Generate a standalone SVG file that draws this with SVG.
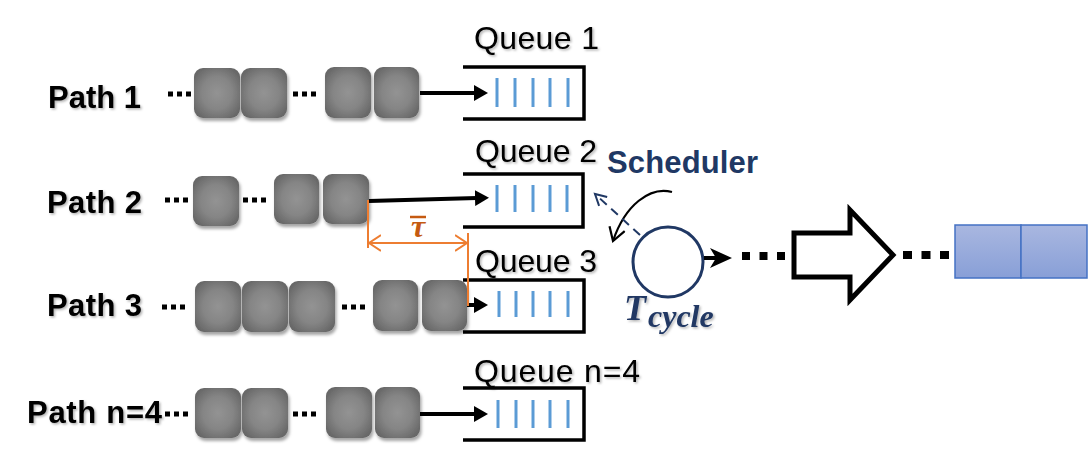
<svg xmlns="http://www.w3.org/2000/svg" width="1088" height="452" viewBox="0 0 1088 452">
<style>
.lbl{font-family:"Liberation Sans",Arial,sans-serif;font-weight:bold;font-size:31px;fill:#000}
.q{font-family:"Liberation Sans",Arial,sans-serif;font-size:32px;fill:#000}
.pkt{fill:url(#pg)}
.qbox{fill:none;stroke:#000;stroke-width:3.5}
.slot{stroke:#5b9bd5;stroke-width:3}
.dots{stroke:#000;stroke-width:5;stroke-dasharray:5 4}
.bigdots{stroke:#000;stroke-width:8}
.arr{stroke:#000;stroke-width:4;fill:none}
.or{stroke:#ed7d31;stroke-width:2;fill:none}
</style>
<defs>
<radialGradient id="pg" cx="0.5" cy="0.5" r="0.6">
<stop offset="0" stop-color="#939393"/>
<stop offset="0.55" stop-color="#858585"/>
<stop offset="1" stop-color="#676767"/>
</radialGradient>
<linearGradient id="bg" x1="0" y1="0" x2="0" y2="1">
<stop offset="0" stop-color="#a9b7e0"/>
<stop offset="1" stop-color="#889fd7"/>
</linearGradient>
<filter id="sh" x="-20%" y="-20%" width="150%" height="150%">
<feDropShadow dx="1.5" dy="3" stdDeviation="1.8" flood-color="#000" flood-opacity="0.35"/>
</filter>
<filter id="tsh" x="-10%" y="-20%" width="120%" height="150%">
<feDropShadow dx="1.5" dy="1.5" stdDeviation="1" flood-color="#000" flood-opacity="0.3"/>
</filter>
<marker id="ah" markerUnits="userSpaceOnUse" markerWidth="16" markerHeight="16" refX="2" refY="8" orient="auto">
<path d="M0,0 L14,8 L0,16 z" fill="#000"/>
</marker>
<marker id="oa" markerUnits="userSpaceOnUse" markerWidth="14" markerHeight="18" refX="12" refY="9" orient="auto">
<path d="M0,1 L12,9 L0,17" fill="none" stroke="#ed7d31" stroke-width="2"/>
</marker>
<marker id="va" markerUnits="userSpaceOnUse" markerWidth="24" markerHeight="24" refX="6" refY="12" orient="auto">
<path d="M0,2 L22,12 L0,22 L6,12 z" fill="#000"/>
</marker>
<marker id="bo" markerUnits="userSpaceOnUse" markerWidth="18" markerHeight="18" refX="14" refY="9" orient="auto">
<path d="M1,1 L14,9 L1,17" fill="none" stroke="#000" stroke-width="2.2"/>
</marker>
<marker id="no" markerUnits="userSpaceOnUse" markerWidth="16" markerHeight="16" refX="12" refY="8" orient="auto">
<path d="M1,2 L12,8 L1,14" fill="none" stroke="#203864" stroke-width="2"/>
</marker>
</defs>
<rect width="1088" height="452" fill="#fff"/>

<g id="path1">
<text class="lbl" x="48" y="108" textLength="93" filter="url(#tsh)">Path 1</text>
<line class="dots" x1="168" y1="94" x2="192" y2="94"/>
<g filter="url(#sh)">
<rect class="pkt" x="194" y="68" width="46" height="50" rx="9"/>
<rect class="pkt" x="241" y="68" width="46" height="50" rx="9"/>
<rect class="pkt" x="325" y="67" width="46" height="51" rx="9"/>
<rect class="pkt" x="374" y="67" width="45" height="51" rx="9"/>
</g>
<line class="dots" x1="293" y1="94" x2="317" y2="94"/>
</g>
<g id="queue1">
<text class="q" x="474" y="49" textLength="125" filter="url(#tsh)">Queue 1</text>
<path class="qbox" d="M463,67 H584 V119 H463"/>
<g class="slot"><line x1="497" y1="78" x2="497" y2="107"/><line x1="515" y1="78" x2="515" y2="107"/><line x1="533" y1="78" x2="533" y2="107"/><line x1="550" y1="78" x2="550" y2="107"/><line x1="568" y1="78" x2="568" y2="107"/></g>
</g>

<g id="path2">
<text class="lbl" x="47" y="213" textLength="95" filter="url(#tsh)">Path 2</text>
<line class="dots" x1="165" y1="200" x2="189" y2="200"/>
<g filter="url(#sh)">
<rect class="pkt" x="193" y="176" width="46" height="50" rx="9"/>
<rect class="pkt" x="274" y="174" width="45" height="50" rx="9"/>
<rect class="pkt" x="323" y="174" width="46" height="50" rx="9"/>
</g>
<line class="dots" x1="243" y1="200" x2="267" y2="200"/>
</g>
<g id="queue2">
<text class="q" x="475" y="162" textLength="122" filter="url(#tsh)">Queue 2</text>
<path class="qbox" d="M463,174 H583 V227 H463"/>
<g class="slot"><line x1="497" y1="185" x2="497" y2="212"/><line x1="515" y1="185" x2="515" y2="212"/><line x1="533" y1="185" x2="533" y2="212"/><line x1="550" y1="185" x2="550" y2="212"/><line x1="567" y1="185" x2="567" y2="212"/></g>
</g>

<g id="path3">
<text class="lbl" x="47" y="316" textLength="95" filter="url(#tsh)">Path 3</text>
<line class="dots" x1="162" y1="307" x2="186" y2="307"/>
<g filter="url(#sh)">
<rect class="pkt" x="195" y="281" width="46" height="51" rx="9"/>
<rect class="pkt" x="242" y="281" width="46" height="51" rx="9"/>
<rect class="pkt" x="289" y="281" width="46" height="51" rx="9"/>
<rect class="pkt" x="373" y="280" width="45" height="51" rx="9"/>
<rect class="pkt" x="422" y="280" width="45" height="51" rx="9"/>
</g>
<line class="dots" x1="342" y1="307" x2="366" y2="307"/>
</g>
<g id="queue3">
<text class="q" x="475" y="272" textLength="122" filter="url(#tsh)">Queue 3</text>
<path class="qbox" d="M463,280 H584 V332 H463"/>
<g class="slot"><line x1="499" y1="291" x2="499" y2="317"/><line x1="516" y1="291" x2="516" y2="317"/><line x1="533" y1="291" x2="533" y2="317"/><line x1="550" y1="291" x2="550" y2="317"/><line x1="568" y1="291" x2="568" y2="317"/></g>
</g>

<g id="path4">
<text class="lbl" x="27" y="423" textLength="135" filter="url(#tsh)">Path n=4</text>
<line class="dots" x1="165" y1="414" x2="189" y2="414"/>
<g filter="url(#sh)">
<rect class="pkt" x="195" y="388" width="46" height="50" rx="9"/>
<rect class="pkt" x="242" y="388" width="46" height="50" rx="9"/>
<rect class="pkt" x="326" y="387" width="46" height="51" rx="9"/>
<rect class="pkt" x="375" y="387" width="45" height="51" rx="9"/>
</g>
<line class="dots" x1="293" y1="414" x2="317" y2="414"/>
</g>
<g id="queue4">
<text class="q" x="474" y="382" textLength="166" filter="url(#tsh)">Queue n=4</text>
<path class="qbox" d="M463,388 H584 V440 H463"/>
<g class="slot"><line x1="498" y1="400" x2="498" y2="428"/><line x1="516" y1="400" x2="516" y2="428"/><line x1="533" y1="400" x2="533" y2="428"/><line x1="550" y1="400" x2="550" y2="428"/><line x1="568" y1="400" x2="568" y2="428"/></g>
</g>

<g id="scheduler">
<text x="607" y="173" textLength="151" font-family="Liberation Sans,Arial,sans-serif" font-weight="bold" font-size="31" fill="#203864">Scheduler</text>
<circle cx="668" cy="262" r="35" fill="#fff" stroke="#203864" stroke-width="3"/>
<text x="624" y="320" font-family="Liberation Serif,Times New Roman,serif" font-weight="bold" font-style="italic" font-size="36" fill="#203864" filter="url(#tsh)">T</text>
<text x="648" y="327" font-family="Liberation Serif,Times New Roman,serif" font-weight="bold" font-style="italic" font-size="32" fill="#203864" filter="url(#tsh)">cycle</text>
</g>

<g id="tau">
<line x1="410" y1="217" x2="426" y2="217" stroke="#c55a11" stroke-width="2.5"/>
<text x="418" y="237" text-anchor="middle" font-family="Liberation Serif,Times New Roman,serif" font-weight="bold" font-style="italic" font-size="32" fill="#c55a11">τ</text>
</g>

<g id="output">
<polygon points="794,233 850,233 850,210 893,255 850,300 850,277 794,277" fill="#fff" stroke="#000" stroke-width="5"/>
<rect x="955" y="225" width="66" height="53" fill="url(#bg)" stroke="#4472c4" stroke-width="1.5"/>
<rect x="1021" y="225" width="66" height="53" fill="url(#bg)" stroke="#4472c4" stroke-width="1.5"/>
</g>

<g id="connectors">
<line class="arr" x1="420" y1="93" x2="476" y2="93" marker-end="url(#ah)"/>
<line class="arr" x1="369" y1="201" x2="477" y2="198" marker-end="url(#ah)"/>
<line class="arr" x1="467" y1="305" x2="476" y2="305" marker-end="url(#ah)"/>
<line class="arr" x1="420" y1="414" x2="476" y2="414" marker-end="url(#ah)"/>
<line class="or" x1="368" y1="200" x2="368" y2="248"/>
<line class="or" x1="468" y1="233" x2="468" y2="306"/>
<line class="or" x1="384" y1="243" x2="455" y2="243"/>
<line class="or" x1="420" y1="243" x2="467" y2="243" marker-end="url(#oa)"/>
<line class="or" x1="420" y1="243" x2="369" y2="243" marker-end="url(#oa)"/>
<line x1="704" y1="258" x2="716" y2="258" stroke="#000" stroke-width="4" marker-end="url(#va)"/>
<line class="bigdots" x1="742" y1="256" x2="786" y2="256" stroke-dasharray="8 9.5"/>
<line class="bigdots" x1="903" y1="255" x2="949" y2="255" stroke-dasharray="9 9.5"/>
<path d="M672,192 C650,186 625,205 613,241" fill="none" stroke="#000" stroke-width="2.2" marker-end="url(#bo)"/>
<line x1="640" y1="235" x2="595" y2="194" stroke="#203864" stroke-width="2" stroke-dasharray="9 6" marker-end="url(#no)"/>
</g>
</svg>
